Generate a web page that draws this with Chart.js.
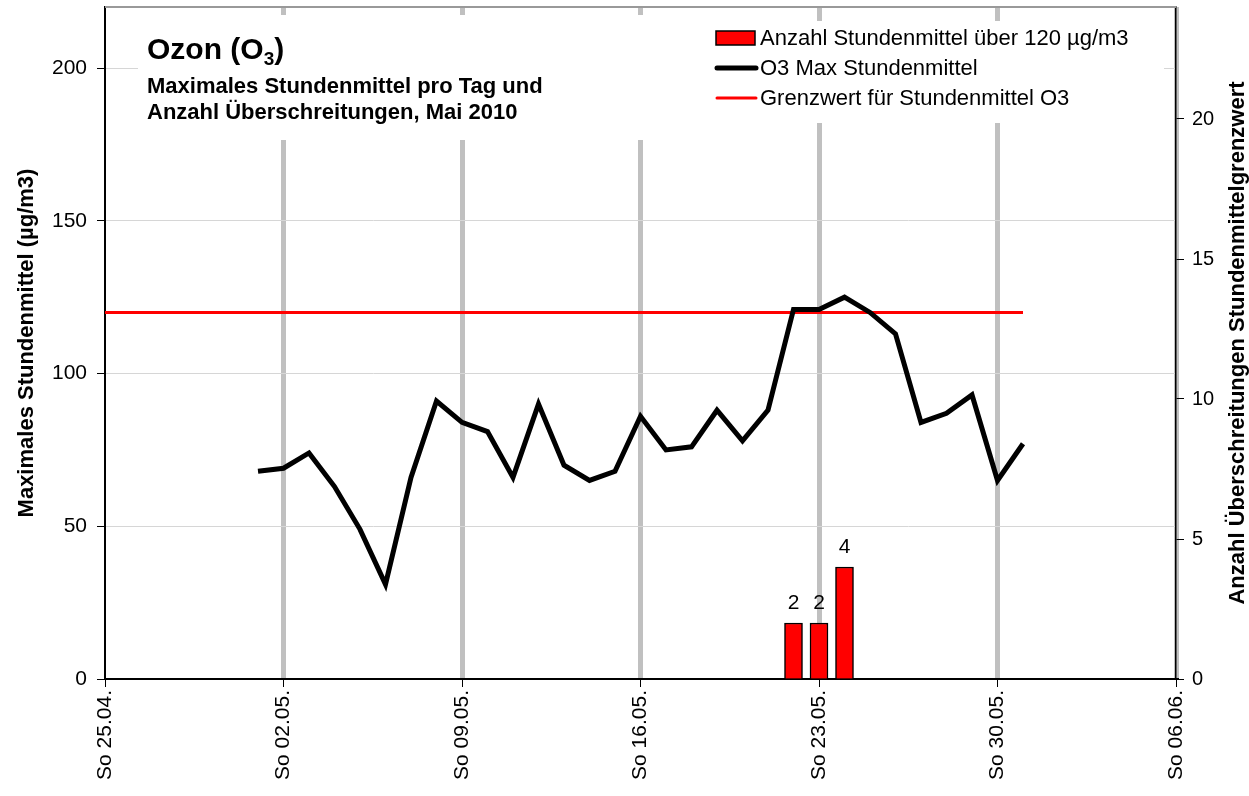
<!DOCTYPE html>
<html>
<head>
<meta charset="utf-8">
<script src="https://cdn.jsdelivr.net/npm/chart.js@4/dist/chart.umd.min.js"></script>
<style>
  html, body { margin: 0; padding: 0; background: #fff; }
  canvas { display: block; }
</style>
</head>
<body>
<canvas id="ozon" width="1249" height="796"></canvas>
<script>
const tageMai = [
    "01.05.", "02.05.", "03.05.", "04.05.", "05.05.", "06.05.", "07.05.", "08.05.",
    "09.05.", "10.05.", "11.05.", "12.05.", "13.05.", "14.05.", "15.05.", "16.05.",
    "17.05.", "18.05.", "19.05.", "20.05.", "21.05.", "22.05.", "23.05.", "24.05.",
    "25.05.", "26.05.", "27.05.", "28.05.", "29.05.", "30.05.", "31.05.",
];
const o3Max = [
    68, 69, 74, 63, 49, 31, 66, 91,
    84, 81, 66, 90, 70, 65, 68, 86,
    75, 76, 88, 78, 88, 121, 121, 125,
    120, 113, 84, 87, 93, 65, 77,
];
const ueberschreitungen = [
    null, null, null, null, null, null, null, null,
    null, null, null, null, null, null, null, null,
    null, null, null, null, null, 2, 2, 4,
    null, null, null, null, null, null, null,
];
const grenzwertTage = ["25.04.", "31.05."];
const grenzwert = [120, 120];
const wochenTicks = ["So 25.04.", "So 02.05.", "So 09.05.", "So 16.05.", "So 23.05.", "So 30.05.", "So 06.06."];

const FONT = '"Liberation Sans", Arial, sans-serif';

// Tage seit So 25.04.
function tagIndex(d) {
    const [dd, mm] = d.split(".").map(Number);
    if (mm === 4) return dd - 25;
    if (mm === 5) return dd + 5;
    return dd + 36;
}

function noPad(s) {
    s.paddingTop = 0;
    s.paddingBottom = 0;
    s.paddingLeft = 0;
    s.paddingRight = 0;
}

const overlay = {
    id: "overlay",
    beforeDatasetsDraw(chart) {
        const ctx = chart.ctx;
        ctx.save();
        ctx.fillStyle = "#fff";
        ctx.fillRect(138, 15, 567, 125);
        ctx.fillRect(700, 21, 464, 102);
        ctx.restore();
    },
    afterDatasetsDraw(chart) {
        const ctx = chart.ctx;
        const area = chart.chartArea;
        ctx.save();

        // Rahmen oben
        ctx.strokeStyle = "#999";
        ctx.lineWidth = 2;
        ctx.beginPath();
        ctx.moveTo(area.left, area.top);
        ctx.lineTo(area.right, area.top);
        ctx.stroke();

        // Werte über den Balken
        ctx.fillStyle = "#000";
        ctx.font = "21px " + FONT;
        ctx.textAlign = "center";
        ctx.textBaseline = "alphabetic";
        const meta = chart.getDatasetMeta(0);
        meta.data.forEach((bar, i) => {
            const v = chart.data.datasets[0].data[i].y;
            if (v == null) return;
            ctx.fillText(String(v), bar.x, bar.y - 14);
        });

        // Titel
        ctx.textAlign = "left";
        ctx.font = "bold 30px " + FONT;
        let x = 147;
        ctx.fillText("Ozon (O", x, 59);
        x += ctx.measureText("Ozon (O").width;
        ctx.font = "bold 19px " + FONT;
        ctx.fillText("3", x, 65);
        x += ctx.measureText("3").width;
        ctx.font = "bold 30px " + FONT;
        ctx.fillText(")", x, 59);
        ctx.font = "bold 22px " + FONT;
        ctx.fillText("Maximales Stundenmittel pro Tag und", 147, 93);
        ctx.fillText("Anzahl Überschreitungen, Mai 2010", 147, 119);

        // Legende
        ctx.font = "22px " + FONT;
        ctx.textBaseline = "middle";
        ctx.fillStyle = "#ff0000";
        ctx.fillRect(716, 31, 39, 14);
        ctx.strokeStyle = "#000";
        ctx.lineWidth = 1.5;
        ctx.strokeRect(716, 31, 39, 14);
        ctx.lineCap = "round";
        ctx.lineWidth = 5;
        ctx.beginPath();
        ctx.moveTo(717, 68);
        ctx.lineTo(756, 68);
        ctx.stroke();
        ctx.strokeStyle = "#ff0000";
        ctx.lineWidth = 3;
        ctx.beginPath();
        ctx.moveTo(717, 98);
        ctx.lineTo(756, 98);
        ctx.stroke();
        ctx.fillStyle = "#000";
        ctx.fillText("Anzahl Stundenmittel über 120 µg/m3", 760, 39);
        ctx.fillText("O3 Max Stundenmittel", 760, 69);
        ctx.fillText("Grenzwert für Stundenmittel O3", 760, 99);

        // Achsentitel
        const mid = (area.top + area.bottom) / 2;
        ctx.font = "bold 22px " + FONT;
        ctx.textAlign = "center";
        ctx.translate(27, mid);
        ctx.rotate(-Math.PI / 2);
        ctx.fillText("Maximales Stundenmittel (µg/m3)", 0, 0);
        ctx.setTransform(1, 0, 0, 1, 0, 0);
        ctx.translate(1238, mid);
        ctx.rotate(-Math.PI / 2);
        ctx.fillText("Anzahl Überschreitungen Stundenmittelgrenzwert", 0, 0);
        ctx.restore();
    },
};

new Chart(document.getElementById("ozon"), {
    type: "bar",
    data: {
        datasets: [
            {
                type: "bar",
                label: "Anzahl Stundenmittel über 120 µg/m3",
                data: tageMai.map((d, i) => ({ x: tagIndex(d), y: ueberschreitungen[i] })),
                yAxisID: "y1",
                backgroundColor: "#ff0000",
                borderColor: "#000",
                borderWidth: 1.5,
                barThickness: 18,
                order: 3,
            },
            {
                type: "line",
                label: "Grenzwert für Stundenmittel O3",
                data: grenzwertTage.map((d, i) => ({ x: tagIndex(d), y: grenzwert[i] })),
                yAxisID: "y",
                borderColor: "#ff0000",
                borderWidth: 3,
                pointRadius: 0,
                order: 2,
            },
            {
                type: "line",
                label: "O3 Max Stundenmittel",
                data: tageMai.map((d, i) => ({ x: tagIndex(d), y: o3Max[i] })),
                yAxisID: "y",
                borderColor: "#000",
                borderWidth: 5,
                pointRadius: 0,
                tension: 0,
                order: 1,
            },
        ],
    },
    options: {
        responsive: false,
        animation: false,
        layout: { padding: { top: 7, left: 0, right: 0, bottom: 0 } },
        plugins: {
            legend: { display: false },
            tooltip: { enabled: false },
        },
        scales: {
            x: {
                type: "linear",
                min: 0,
                max: 42,
                offset: false,
                afterFit: (s) => { s.height = 117; noPad(s); },
                ticks: {
                    stepSize: 7,
                    minRotation: 90,
                    maxRotation: 90,
                    padding: 3,
                    color: "#000",
                    font: { family: FONT, size: 21 },
                    callback: (v) => wochenTicks[v / 7],
                },
                grid: {
                    offset: false,
                    color: (c) => (c.index === 0 ? "rgba(0,0,0,0)" : "#c0c0c0"),
                    lineWidth: 5,
                    tickColor: "#000",
                    tickWidth: 1,
                    tickLength: 8,
                },
                border: { color: "#000", width: 2 },
            },
            y: {
                position: "left",
                min: 0,
                max: 220,
                afterFit: (s) => { s.width = 105; noPad(s); },
                ticks: {
                    stepSize: 50,
                    includeBounds: false,
                    padding: 10,
                    color: "#000",
                    font: { family: FONT, size: 21 },
                },
                grid: {
                    color: "#d6d6d6",
                    lineWidth: 1,
                    tickColor: "#000",
                    tickLength: 8,
                },
                border: { color: "#000", width: 2 },
            },
            y1: {
                position: "right",
                min: 0,
                max: 24,
                afterFit: (s) => { s.width = 73; noPad(s); },
                ticks: {
                    stepSize: 5,
                    includeBounds: false,
                    padding: 8,
                    color: "#000",
                    font: { family: FONT, size: 20 },
                },
                grid: {
                    drawOnChartArea: false,
                    tickColor: "#000",
                    tickLength: 8,
                },
                border: { color: "#000", width: 1.5 },
            },
        },
    },
    plugins: [overlay],
});
</script>
</body>
</html>
